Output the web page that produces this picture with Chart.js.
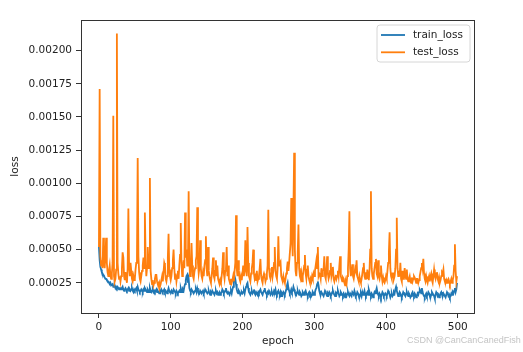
<!DOCTYPE html>
<html>
<head>
<meta charset="utf-8">
<script src="https://cdn.jsdelivr.net/npm/chart.js@4"></script>
<style>
  body { margin: 0; background: #fff; }
  #wrap { position: relative; width: 523px; height: 352px; }
  #mark { position: absolute; left: 407px; top: 335px; font: 9px "Liberation Sans", sans-serif; color: #c4c4c4; white-space: nowrap; }
</style>
</head>
<body>
<div id="wrap">
  <canvas id="myChart" width="523" height="352"></canvas>
  <div id="mark">CSDN @CanCanCanedFish</div>
</div>
<script>
// loss values, in units of 1e-5
const testLossRaw = [
  52,171,45,38,42,36,59,40,36,45,
  59,40,33,30,34,38,30,28,32,40,
  151,30,26,28,35,213,40,32,28,30,
  26,30,36,48,44,30,27,33,28,25,
  36,81,38,30,40,34,28,26,30,27,
  28,35,40,45,119,45,33,28,26,30,
  34,38,44,36,78,45,30,36,52,40,
  36,104,34,28,24,27,23,25,28,31,
  31,26,24,23,25,22,24,27,30,26,
  33,40,38,28,26,30,44,62,35,30,
  27,30,36,42,50,36,28,32,26,30,
  34,28,38,46,70,40,30,34,42,36,
  78,44,50,38,40,94,40,30,34,55,
  38,30,28,33,36,42,45,82,40,32,
  36,57,36,30,28,33,30,38,42,60,
  36,30,52,34,30,27,25,30,36,44,
  30,28,34,42,30,38,28,26,24,27,
  25,30,36,48,32,28,34,36,52,30,
  38,28,26,24,28,25,27,30,26,34,
  40,76,36,30,42,34,28,26,30,27,
  32,38,30,36,57,34,30,67,40,30,
  28,26,32,36,40,50,32,28,30,27,
  34,26,28,30,36,43,30,27,25,30,
  32,30,26,28,32,38,80,36,30,28,
  32,37,30,34,40,52,34,30,28,36,
  60,38,40,41,30,28,26,30,27,25,
  28,32,36,41,34,40,40,55,89,60,
  45,80,123,50,34,30,40,48,69,36,
  30,28,32,26,30,34,38,46,32,28,
  35,38,30,27,25,28,26,30,28,32,
  30,34,38,42,36,52,30,32,31,28,
  36,30,34,35,45,30,28,34,45,32,
  28,30,34,40,30,33,37,28,26,29,
  31,28,30,34,30,38,45,30,28,26,
  29,28,25,23,26,24,30,36,50,79,
  36,30,34,39,30,28,32,36,34,42,
  30,28,26,30,27,25,28,32,36,40,
  30,28,33,28,35,30,27,34,50,94,
  36,30,28,32,36,40,43,32,30,42,
  30,28,32,38,30,26,29,26,25,27,
  30,28,34,40,48,63,36,30,28,32,
  32,28,30,36,50,74,36,30,34,30,
  40,28,26,34,28,30,36,30,28,35,
  28,26,28,30,26,25,29,26,28,30,
  29,27,25,28,28,25,27,30,33,36,
  40,36,43,32,28,26,30,27,25,28,
  30,26,30,32,27,25,30,35,30,28,
  32,33,28,26,29,25,27,30,33,32,
  35,28,26,25,27,25,27,28,26,24,
  26,28,25,27,30,38,54,34,26,30
];
const trainLossRaw = [
  52,42,37,35,33,32,31,30,29,28,
  28,27,26,26,25,24,25,23,23,24,
  22,22,23,21,22,21,22,21,20,21,
  21,20,21,22,20,19,20,21,20,19,
  20,21,19,20,19,20,21,19,18,20,
  19,20,21,19,22,20,19,18,19,20,
  19,18,20,19,21,20,19,18,20,19,
  18,21,19,18,19,20,18,19,18,19,
  20,18,19,18,17,19,18,20,19,18,
  19,20,18,19,18,17,19,21,19,18,
  18,19,17,18,20,19,18,17,19,18,
  17,18,19,18,21,19,18,20,19,22,
  24,27,30,31,25,28,21,19,18,20,
  19,18,17,18,19,20,18,21,19,18,
  17,19,18,17,18,19,17,18,20,19,
  18,17,18,19,17,16,18,17,19,18,
  17,16,18,19,17,18,16,17,18,16,
  17,18,20,19,17,18,19,21,18,17,
  18,17,16,18,19,17,20,22,27,30,
  28,24,20,18,17,19,18,16,17,18,
  17,18,19,17,20,22,24,25,21,18,
  17,16,18,19,17,18,20,17,16,18,
  17,16,18,17,19,20,18,17,16,18,
  19,21,18,17,16,18,17,19,18,16,
  17,18,16,17,19,18,20,17,16,18,
  19,17,16,18,15,17,16,18,17,16,
  18,20,23,25,21,19,17,18,20,18,
  19,22,20,18,17,16,18,19,17,16,
  18,17,15,16,18,17,16,18,19,17,
  16,15,17,18,16,17,15,16,18,17,
  16,18,20,21,24,26,23,19,17,16,
  18,17,16,15,17,19,18,16,15,17,
  16,18,17,15,16,18,19,17,16,15,
  17,16,18,19,17,15,16,18,17,16,
  15,17,16,14,16,15,17,18,16,15,
  17,16,15,18,17,16,19,17,15,16,
  18,17,15,14,16,17,15,18,16,17,
  19,16,15,17,18,16,20,18,16,15,
  17,16,14,16,18,17,19,21,18,16,
  15,17,16,14,16,18,17,15,16,17,
  16,15,17,19,18,16,14,16,17,15,
  16,18,17,20,22,19,17,15,16,18,
  17,15,14,16,18,17,16,15,17,18,
  16,15,17,16,14,15,17,18,16,15,
  17,16,14,15,17,16,18,20,19,17,
  21,18,16,15,14,16,17,15,16,18,
  17,15,14,16,18,17,16,15,13,16,
  18,17,15,16,14,15,17,18,16,15,
  17,16,15,14,16,18,17,15,16,14,
  15,17,16,18,17,19,21,18,20,25
];
const epochs = testLossRaw.map((v, i) => i);
const xTicks = [0, 100, 200, 300, 400, 500];
const yTicks = [0.00025, 0.0005, 0.00075, 0.001, 0.00125, 0.0015, 0.00175, 0.002];

const testLoss = testLossRaw.map(v => v * 1e-5);
const trainLoss = trainLossRaw.map(v => v * 1e-5);

const font = { family: '"DejaVu Sans"', size: 10.5 };

// matplotlib style box round the plot, plus the legend inside the axes
const framePlugin = {
    id: 'frame',
    afterDatasetsDraw(chart) {
        const { ctx, chartArea: a } = chart;
        ctx.save();
        ctx.strokeStyle = '#333';
        ctx.lineWidth = 1;
        ctx.strokeRect(Math.round(a.left) + 0.5, Math.round(a.top) + 0.5,
            Math.round(a.right - a.left) - 1, Math.round(a.bottom - a.top));

        const bx = a.right - 98, by = a.top + 5, bw = 93, bh = 37;
        ctx.fillStyle = 'rgba(255,255,255,0.8)';
        ctx.strokeStyle = '#d6d6d6';
        ctx.beginPath();
        ctx.roundRect(bx, by, bw, bh, 3);
        ctx.fill();
        ctx.stroke();
        ctx.font = '10.5px "DejaVu Sans"';
        ctx.textBaseline = 'middle';
        chart.data.datasets.forEach((ds, i) => {
            const y = by + 10 + i * 17.3;
            ctx.strokeStyle = ds.borderColor;
            ctx.lineWidth = 1.8;
            ctx.beginPath();
            ctx.moveTo(bx + 4, y);
            ctx.lineTo(bx + 28, y);
            ctx.stroke();
            ctx.fillStyle = '#222';
            ctx.fillText(ds.label, bx + 36, y);
        });
        ctx.restore();
    }
};

let ctx = document.getElementById('myChart').getContext('2d');
let myChart = new Chart(ctx, {
    type: 'line',
    data: {
        labels: epochs,
        datasets: [{
            label: 'train_loss',
            data: trainLoss,
            borderColor: '#1f77b4',
            borderWidth: 1.8,
            pointRadius: 0,
            order: 1
        }, {
            label: 'test_loss',
            data: testLoss,
            borderColor: '#ff7f0e',
            borderWidth: 1.8,
            pointRadius: 0,
            order: 0
        }]
    },
    options: {
        responsive: false,
        animation: false,
        devicePixelRatio: 1,
        layout: { padding: { left: 0, right: 48, top: 20, bottom: 0 } },
        plugins: {
            legend: { display: false },
            tooltip: { enabled: false }
        },
        scales: {
            x: {
                type: 'linear',
                min: -25,
                max: 524,
                afterBuildTicks: axis => { axis.ticks = xTicks.map(v => ({ value: v })); },
                afterFit: axis => { axis.height = 39; },
                grid: { drawOnChartArea: false, tickLength: 5, tickColor: '#333' },
                border: { display: false },
                ticks: { font: font, color: '#222', padding: 3, maxRotation: 0 },
                title: { display: true, text: 'epoch', font: font, color: '#222', padding: { top: 0, bottom: 4 } }
            },
            y: {
                min: 0.0000223,
                max: 0.002231,
                afterBuildTicks: axis => { axis.ticks = yTicks.map(v => ({ value: v })); },
                afterFit: axis => { axis.width = 81; },
                grid: { drawOnChartArea: false, tickLength: 5, tickColor: '#333' },
                border: { display: false },
                ticks: { font: font, color: '#222', padding: 4, callback: v => v.toFixed(5) },
                title: { display: true, text: 'loss', font: font, color: '#222', padding: { top: 9, bottom: 0 } }
            }
        }
    },
    plugins: [framePlugin]
});
</script>
</body>
</html>
